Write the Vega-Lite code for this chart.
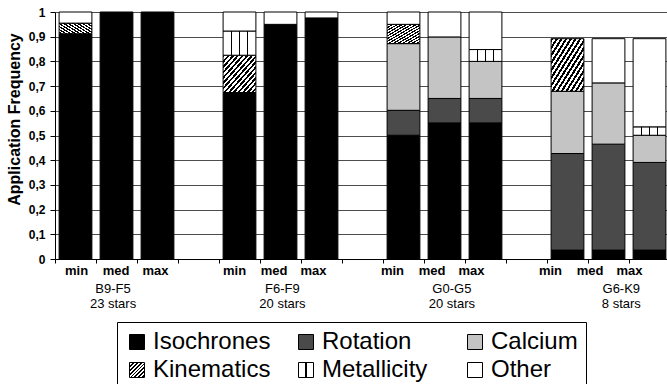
{
  "$schema": "https://vega.github.io/schema/vega-lite/v6.json",
  "width": 615,
  "height": 247,
  "autosize": {"type": "none"},
  "padding": {"left": 55, "top": 12, "right": 0, "bottom": 125},
  "background": "white",
  "config": {"view": {"stroke": null}, "font": "Liberation Sans"},
  "datasets": {
    "bars": [
      {"slot": "B9-F5 min", "part": "Isochrones", "v": 0.912},
      {"slot": "B9-F5 min", "part": "Kinematics", "v": 0.043},
      {"slot": "B9-F5 min", "part": "Other", "v": 0.045},
      {"slot": "B9-F5 med", "part": "Isochrones", "v": 1.0},
      {"slot": "B9-F5 max", "part": "Isochrones", "v": 1.0},
      {"slot": "F6-F9 min", "part": "Isochrones", "v": 0.674},
      {"slot": "F6-F9 min", "part": "Kinematics", "v": 0.151},
      {"slot": "F6-F9 min", "part": "Metallicity", "v": 0.098},
      {"slot": "F6-F9 min", "part": "Other", "v": 0.077},
      {"slot": "F6-F9 med", "part": "Isochrones", "v": 0.95},
      {"slot": "F6-F9 med", "part": "Other", "v": 0.05},
      {"slot": "F6-F9 max", "part": "Isochrones", "v": 0.976},
      {"slot": "F6-F9 max", "part": "Other", "v": 0.024},
      {"slot": "G0-G5 min", "part": "Isochrones", "v": 0.501},
      {"slot": "G0-G5 min", "part": "Rotation", "v": 0.101},
      {"slot": "G0-G5 min", "part": "Calcium", "v": 0.27},
      {"slot": "G0-G5 min", "part": "Kinematics", "v": 0.078},
      {"slot": "G0-G5 min", "part": "Other", "v": 0.05},
      {"slot": "G0-G5 med", "part": "Isochrones", "v": 0.551},
      {"slot": "G0-G5 med", "part": "Rotation", "v": 0.099},
      {"slot": "G0-G5 med", "part": "Calcium", "v": 0.249},
      {"slot": "G0-G5 med", "part": "Other", "v": 0.101},
      {"slot": "G0-G5 max", "part": "Isochrones", "v": 0.551},
      {"slot": "G0-G5 max", "part": "Rotation", "v": 0.099},
      {"slot": "G0-G5 max", "part": "Calcium", "v": 0.15},
      {"slot": "G0-G5 max", "part": "Metallicity", "v": 0.048},
      {"slot": "G0-G5 max", "part": "Other", "v": 0.152},
      {"slot": "G6-K9 min", "part": "Isochrones", "v": 0.036},
      {"slot": "G6-K9 min", "part": "Rotation", "v": 0.391},
      {"slot": "G6-K9 min", "part": "Calcium", "v": 0.252},
      {"slot": "G6-K9 min", "part": "Kinematics", "v": 0.213},
      {"slot": "G6-K9 med", "part": "Isochrones", "v": 0.036},
      {"slot": "G6-K9 med", "part": "Rotation", "v": 0.429},
      {"slot": "G6-K9 med", "part": "Calcium", "v": 0.248},
      {"slot": "G6-K9 med", "part": "Other", "v": 0.179},
      {"slot": "G6-K9 max", "part": "Isochrones", "v": 0.036},
      {"slot": "G6-K9 max", "part": "Rotation", "v": 0.355},
      {"slot": "G6-K9 max", "part": "Calcium", "v": 0.11},
      {"slot": "G6-K9 max", "part": "Metallicity", "v": 0.034},
      {"slot": "G6-K9 max", "part": "Other", "v": 0.357}
    ],
    "groups": [
      {"g": "B9-F5|23 stars"},
      {"g": "F6-F9|20 stars"},
      {"g": "G0-G5|20 stars"},
      {"g": "G6-K9|8 stars"}
    ]
  },
  "layer": [
    {
      "data": {"name": "bars"},
      "transform": [
        {"calculate": "indexof(['Isochrones', 'Rotation', 'Calcium', 'Kinematics', 'Metallicity', 'Other'], datum.part)", "as": "ord"}
      ],
      "mark": {"type": "bar", "stroke": "black", "strokeWidth": 1},
      "encoding": {
        "x": {
          "field": "slot", "type": "nominal",
          "scale": {"type": "band", "domain": ["B9-F5 min","B9-F5 med","B9-F5 max","gap1","F6-F9 min","F6-F9 med","F6-F9 max","gap2","G0-G5 min","G0-G5 med","G0-G5 max","gap3","G6-K9 min","G6-K9 med","G6-K9 max"], "paddingInner": 0.2, "paddingOuter": 0.1},
          "axis": {"orient": "bottom", "title": null, "labels": false, "ticks": true, "tickSize": 4, "tickColor": "black", "domainColor": "black", "bandPosition": 0, "tickOffset": -4.1, "grid": false}
        },
        "y": {
          "field": "v", "type": "quantitative", "stack": "zero",
          "scale": {"domain": [0, 1], "nice": false},
          "axis": {
            "title": "Application Frequency",
            "values": [0, 0.1, 0.2, 0.3, 0.4, 0.5, 0.6, 0.7, 0.8, 0.9, 1],
            "labelExpr": "replace(format(datum.value, '.1~f'), '.', ',')",
            "grid": true, "gridColor": "#4d4d4d", "gridWidth": 1,
            "domainColor": "black", "tickColor": "black", "tickSize": 5,
            "labelFont": "Liberation Sans", "labelFontWeight": "bold", "labelFontSize": 12, "labelColor": "black", "labelPadding": 5,
            "titleFont": "Liberation Sans", "titleFontWeight": "bold", "titleFontSize": 16, "titleColor": "black",
            "titleAngle": -90, "titleBaseline": "middle", "titleAlign": "center", "titleX": -41, "titleY": 107
          }
        },
        "order": {"field": "ord", "type": "quantitative", "sort": "ascending"},
        "color": {
          "condition": [
            {"test": "datum.part === 'Kinematics'", "value": {"gradient": "linear", "x1": 0, "y1": 0, "x2": 1, "y2": 1, "stops": [{"offset":0,"color":"black"},{"offset":0.0357,"color":"black"},{"offset":0.0357,"color":"white"},{"offset":0.0714,"color":"white"},{"offset":0.0714,"color":"black"},{"offset":0.1071,"color":"black"},{"offset":0.1071,"color":"white"},{"offset":0.1429,"color":"white"},{"offset":0.1429,"color":"black"},{"offset":0.1786,"color":"black"},{"offset":0.1786,"color":"white"},{"offset":0.2143,"color":"white"},{"offset":0.2143,"color":"black"},{"offset":0.25,"color":"black"},{"offset":0.25,"color":"white"},{"offset":0.2857,"color":"white"},{"offset":0.2857,"color":"black"},{"offset":0.3214,"color":"black"},{"offset":0.3214,"color":"white"},{"offset":0.3571,"color":"white"},{"offset":0.3571,"color":"black"},{"offset":0.3929,"color":"black"},{"offset":0.3929,"color":"white"},{"offset":0.4286,"color":"white"},{"offset":0.4286,"color":"black"},{"offset":0.4643,"color":"black"},{"offset":0.4643,"color":"white"},{"offset":0.5,"color":"white"},{"offset":0.5,"color":"black"},{"offset":0.5357,"color":"black"},{"offset":0.5357,"color":"white"},{"offset":0.5714,"color":"white"},{"offset":0.5714,"color":"black"},{"offset":0.6071,"color":"black"},{"offset":0.6071,"color":"white"},{"offset":0.6429,"color":"white"},{"offset":0.6429,"color":"black"},{"offset":0.6786,"color":"black"},{"offset":0.6786,"color":"white"},{"offset":0.7143,"color":"white"},{"offset":0.7143,"color":"black"},{"offset":0.75,"color":"black"},{"offset":0.75,"color":"white"},{"offset":0.7857,"color":"white"},{"offset":0.7857,"color":"black"},{"offset":0.8214,"color":"black"},{"offset":0.8214,"color":"white"},{"offset":0.8571,"color":"white"},{"offset":0.8571,"color":"black"},{"offset":0.8929,"color":"black"},{"offset":0.8929,"color":"white"},{"offset":0.9286,"color":"white"},{"offset":0.9286,"color":"black"},{"offset":0.9643,"color":"black"},{"offset":0.9643,"color":"white"},{"offset":1,"color":"white"}]}},
            {"test": "datum.part === 'Metallicity'", "value": {"gradient": "linear", "x1": 0, "y1": 0, "x2": 1, "y2": 0, "stops": [{"offset":0,"color":"white"},{"offset":0.235,"color":"white"},{"offset":0.235,"color":"black"},{"offset":0.265,"color":"black"},{"offset":0.265,"color":"white"},{"offset":0.485,"color":"white"},{"offset":0.485,"color":"black"},{"offset":0.515,"color":"black"},{"offset":0.515,"color":"white"},{"offset":0.735,"color":"white"},{"offset":0.735,"color":"black"},{"offset":0.765,"color":"black"},{"offset":0.765,"color":"white"},{"offset":1,"color":"white"}]}}
          ],
          "field": "part", "type": "nominal",
          "scale": {
            "domain": ["Other", "Metallicity", "Kinematics", "Calcium", "Rotation", "Isochrones"],
            "range": ["#ffffff", "#e6e6e6", "#7a7a7a", "#c4c4c4", "#4a4a4a", "#000000"]
          },
          "legend": null
        }
      }
    },
    {
      "data": {"name": "bars"},
      "mark": {"type": "point", "opacity": 0, "size": 225},
      "encoding": {
        "shape": {
          "field": "part", "type": "nominal",
          "sort": ["Isochrones", "Rotation", "Calcium", "Kinematics", "Metallicity", "Other"],
          "scale": {
            "domain": ["Isochrones", "Rotation", "Calcium", "Kinematics", "Metallicity", "Other"],
            "range": ["square", "square", "square", "square", "square", "square"]
          },
          "legend": {
            "orient": "none", "legendX": 62, "legendY": 310, "title": null, "direction": "horizontal",
            "columns": 3, "gridAlign": "all", "columnPadding": 23, "rowPadding": 4,
            "symbolSize": 225, "symbolStrokeColor": "black", "symbolStrokeWidth": 1, "symbolOpacity": 1,
            "labelFont": "Liberation Sans", "labelFontSize": 24, "labelColor": "black", "labelOffset": 4, "labelLimit": 300,
            "strokeColor": "black", "fillColor": "white", "padding": 8,
            "encoding": {
              "symbols": {
                "fill": {
                  "condition": [
                    {"test": "datum.label === 'Kinematics'", "value": {"gradient": "linear", "x1": 0, "y1": 0, "x2": 1, "y2": 1, "stops": [{"offset":0,"color":"black"},{"offset":0.0625,"color":"black"},{"offset":0.0625,"color":"white"},{"offset":0.125,"color":"white"},{"offset":0.125,"color":"black"},{"offset":0.1875,"color":"black"},{"offset":0.1875,"color":"white"},{"offset":0.25,"color":"white"},{"offset":0.25,"color":"black"},{"offset":0.3125,"color":"black"},{"offset":0.3125,"color":"white"},{"offset":0.375,"color":"white"},{"offset":0.375,"color":"black"},{"offset":0.4375,"color":"black"},{"offset":0.4375,"color":"white"},{"offset":0.5,"color":"white"},{"offset":0.5,"color":"black"},{"offset":0.5625,"color":"black"},{"offset":0.5625,"color":"white"},{"offset":0.625,"color":"white"},{"offset":0.625,"color":"black"},{"offset":0.6875,"color":"black"},{"offset":0.6875,"color":"white"},{"offset":0.75,"color":"white"},{"offset":0.75,"color":"black"},{"offset":0.8125,"color":"black"},{"offset":0.8125,"color":"white"},{"offset":0.875,"color":"white"},{"offset":0.875,"color":"black"},{"offset":0.9375,"color":"black"},{"offset":0.9375,"color":"white"},{"offset":1,"color":"white"}]}},
                    {"test": "datum.label === 'Metallicity'", "value": {"gradient": "linear", "x1": 0, "y1": 0, "x2": 1, "y2": 0, "stops": [{"offset":0,"color":"white"},{"offset":0.45,"color":"white"},{"offset":0.45,"color":"black"},{"offset":0.55,"color":"black"},{"offset":0.55,"color":"white"},{"offset":1,"color":"white"}]}},
                    {"test": "datum.label === 'Isochrones'", "value": "#000000"},
                    {"test": "datum.label === 'Rotation'", "value": "#4a4a4a"},
                    {"test": "datum.label === 'Calcium'", "value": "#c4c4c4"}
                  ],
                  "value": "#ffffff"
                },
                "stroke": {"value": "black"},
                "strokeWidth": {"value": 1},
                "opacity": {"value": 1},
                "size": {"value": 225}
              }
            }
          }
        }
      }
    },
    {
      "data": {"name": "bars"},
      "mark": {"type": "text", "text": ""},
      "encoding": {
        "x": {
          "field": "slot", "type": "nominal",
          "scale": {"type": "point", "domain": ["B9-F5 min","B9-F5 med","B9-F5 max","gap1","F6-F9 min","F6-F9 med","F6-F9 max","gap2","G0-G5 min","G0-G5 med","G0-G5 max","gap3","G6-K9 min","G6-K9 med","G6-K9 max"], "padding": 0.785, "align": 0.339},
          "axis": {"orient": "bottom", "title": null, "domain": false, "ticks": false, "tickSize": 0, "grid": false,
            "labelExpr": "indexof(datum.value, 'gap') == 0 ? '' : split(datum.value, ' ')[1]",
            "labelFont": "Liberation Sans", "labelFontWeight": "bold", "labelFontSize": 13, "labelColor": "black", "labelPadding": 5, "labelAngle": 0}
        }
      }
    },
    {
      "data": {"name": "groups"},
      "mark": {"type": "text", "text": ""},
      "encoding": {
        "x": {
          "field": "g", "type": "nominal",
          "scale": {"type": "point", "domain": ["B9-F5|23 stars", "F6-F9|20 stars", "G0-G5|20 stars", "G6-K9|8 stars"], "padding": 0.315, "align": 0.539},
          "axis": {"orient": "bottom", "title": null, "domain": false, "ticks": false, "tickSize": 0, "grid": false,
            "labelExpr": "split(datum.value, '|')",
            "labelFont": "Liberation Sans", "labelFontSize": 13, "labelColor": "black", "labelPadding": 23, "labelLineHeight": 15, "labelAngle": 0}
        }
      }
    }
  ],
  "resolve": {"scale": {"x": "independent"}, "axis": {"x": "independent"}}
}
